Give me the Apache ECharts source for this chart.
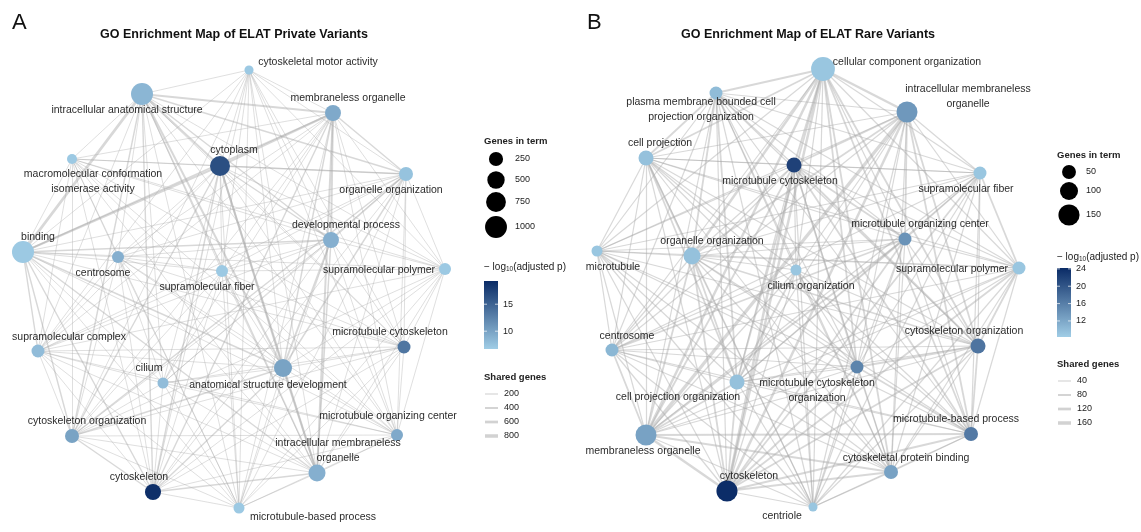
<!DOCTYPE html>
<html>
<head>
<meta charset="utf-8">
<script src="https://cdn.jsdelivr.net/npm/echarts@6/dist/echarts.min.js"></script>
<style>
  html, body { margin: 0; background: #fff; }
  #chart { width: 1141px; height: 532px; }
</style>
</head>
<body>
<div id="chart"></div>
<script>
// shared layout (same node positions in both maps), layout units
const layoutX = [226, 119, 310, 49, 197, 383, 308, 0, 95, 199, 422, 15, 381, 260, 140, 49, 374, 294, 130, 216]
const layoutY = [0, 24, 43, 89, 96, 104, 170, 182, 187, 201, 199, 281, 277, 298, 313, 366, 365, 403, 422, 438]

// panel A: ELAT private variants
const termsA = [
  'cytoskeletal motor activity', 'intracellular anatomical structure', 'membraneless organelle',
  'macromolecular conformation\nisomerase activity', 'cytoplasm', 'organelle organization',
  'developmental process', 'binding', 'centrosome', 'supramolecular fiber', 'supramolecular polymer',
  'supramolecular complex', 'microtubule cytoskeleton', 'anatomical structure development', 'cilium',
  'cytoskeleton organization', 'microtubule organizing center', 'intracellular membraneless\norganelle',
  'cytoskeleton', 'microtubule-based process'
]
const genesA = [30, 1010, 380, 55, 770, 240, 380, 1020, 130, 130, 130, 180, 180, 560, 90, 240, 130, 470, 390, 90]
const logpA = [7, 8.5, 9.5, 7, 16.5, 7.5, 9, 7, 9, 7, 7, 8, 13.5, 10, 8, 10, 9.5, 9, 19, 7]
// shared genes between terms, upper triangle, coded by level
const sharedLevelsA = [0, 130, 280, 420, 650]
const edgesA = [
  '1101111011111011111', '313224111113121221', '13232111112111321', '1111101111011111',
  '223111113121321', '21111112121111', '2111113111211', '111212121221', '10111111111',
  '1111111111', '111011111', '11111111', '1111111', '121321', '11111', '1121', '111', '21', '1'
]
const genesBreaksA = [250, 500, 750, 1000]
const pTicksA = [10, 15]
const pRangeA = [6.7, 19.3]
const sharedBreaksA = [200, 400, 600, 800]

// panel B: ELAT rare variants
const termsB = [
  'cellular component organization', 'plasma membrane bounded cell\nprojection organization',
  'intracellular membraneless\norganelle', 'cell projection', 'microtubule cytoskeleton',
  'supramolecular fiber', 'microtubule organizing center', 'microtubule', 'organelle organization',
  'cilium organization', 'supramolecular polymer', 'centrosome', 'cytoskeleton organization',
  'microtubule cytoskeleton\norganization', 'cell projection organization', 'membraneless organelle',
  'microtubule-based process', 'cytoskeletal protein binding', 'cytoskeleton', 'centriole'
]
const genesB = [200, 41, 147, 62, 62, 41, 41, 25, 86, 25, 41, 41, 62, 41, 62, 147, 51, 51, 150, 13]
const logpB = [9, 10, 13.5, 9.5, 22, 9, 14, 9, 9.5, 9, 9, 10.5, 17, 15.5, 9.5, 12.5, 16.5, 12.5, 24, 9]
const sharedLevelsB = [0, 45, 75, 110, 150]
const edgesB = [
  '2322111311122232231', '121111211111211111', '12121211121142131', '1111211111211111',
  '121111122122131', '11102111111121', '1111211121121', '101111111111', '11121221121',
  '0111211111', '121111121', '11121111', '2112121', '112121', '21121', '2231', '121', '21', '1'
]
const genesBreaksB = [50, 100, 150]
const pTicksB = [12, 16, 20, 24]
const pRangeB = [8.3, 24.2]
const sharedBreaksB = [40, 80, 120, 160]

// label placement relative to node centre (px)
const labelOffA = [[69, -8], [-15, 16], [15, -15], [21, 23], [14, -16], [-15, 16], [15, -15], [15, -15],
  [-15, 16], [-15, 16], [-66, 1], [31, -14], [-14, -15], [-15, 17], [-14, -15], [15, -15], [-9, -19],
  [21, -22], [-14, -15], [74, 9]]
const labelOffB = [[84, -7], [-15, 17], [61, -15], [14, -15], [-14, 16], [-14, 16], [15, -15], [16, 16],
  [20, -15], [15, 16], [-67, 1], [15, -14], [-14, -15], [-40, 24], [-59, 15], [-3, 16], [-15, -15],
  [15, -14], [22, -15], [-31, 9]]

const LOW = '#A0CDE6'
const HIGH = '#0A2B66'
const FONT = '"Liberation Sans", Arial, sans-serif'

const sizeA = g => 2 * (3.2 + 0.245 * Math.sqrt(g))
const sizeB = g => 2 * (2.0 + 0.7 * Math.sqrt(g))
const widthA = s => 0.3 + 0.004 * s
const widthB = s => 0.3 + 0.02 * s

const colorOf = (p, range) => echarts.color.lerp((p - range[0]) / (range[1] - range[0]), [LOW, HIGH])

const buildNodes = (terms, genes, logp, offs, sizeFn, range) => terms.map((t, i) => ({
  name: t,
  value: [layoutX[i], layoutY[i]],
  symbolSize: sizeFn(genes[i]),
  itemStyle: { color: colorOf(logp[i], range) },
  label: { show: true, position: 'inside', offset: offs[i] },
}))

const buildLinks = (rows, levels, widthFn) => {
  const links = []
  rows.forEach((row, i) => {
    for (let k = 0; k < row.length; k++) {
      const lv = +row[k]
      if (!lv) continue
      links.push({ source: i, target: i + 1 + k, value: levels[lv], lineStyle: { width: widthFn(levels[lv]) } })
    }
  })
  return links.sort((a, b) => a.value - b.value)
}

const graphSeries = (idx, nodes, links) => ({
  type: 'graph',
  coordinateSystem: 'cartesian2d',
  xAxisIndex: idx,
  yAxisIndex: idx,
  layout: 'none',
  data: nodes,
  links: links,
  silent: true,
  lineStyle: { color: '#a8a8a8', opacity: 0.45, curveness: 0 },
  label: { color: '#2b2b2b', fontSize: 10.5, fontFamily: FONT, lineHeight: 15 },
  emphasis: { disabled: true },
})

// legend block drawn with graphics
const legend = (x, o) => {
  const els = []
  const txt = (tx, ty, text, extra) => els.push({
    type: 'text', x: tx, y: ty, silent: true,
    style: Object.assign({ text, fill: '#222', font: '9px ' + FONT, textVerticalAlign: 'middle' }, extra || {}),
  })
  txt(x, o.genesTitleY, 'Genes in term', { font: 'bold 9.5px ' + FONT })
  o.genesBreaks.forEach((g, i) => {
    els.push({ type: 'circle', silent: true, shape: { cx: x + 12, cy: o.genesY[i], r: o.sizeFn(g) / 2 }, style: { fill: '#000' } })
    txt(o.genesLabelX, o.genesY[i], String(g))
  })
  txt(x, o.barTitleY, '− log{s|10}(adjusted p)', { font: '10px ' + FONT, rich: { s: { fontSize: 6.5, fontFamily: FONT, padding: [5, 0, 0, 0] } } })
  els.push({
    type: 'rect', silent: true,
    shape: { x: x, y: o.barTop, width: 14, height: o.barH },
    style: { fill: new echarts.graphic.LinearGradient(0, 0, 0, 1, [{ offset: 0, color: HIGH }, { offset: 1, color: LOW }]) },
  })
  o.pTicks.forEach(v => {
    const y = o.barTop + (o.pRange[1] - v) / (o.pRange[1] - o.pRange[0]) * o.barH
    els.push({ type: 'line', silent: true, shape: { x1: x, y1: y, x2: x + 3, y2: y }, style: { stroke: 'rgba(255,255,255,0.7)', lineWidth: 1 } })
    els.push({ type: 'line', silent: true, shape: { x1: x + 11, y1: y, x2: x + 14, y2: y }, style: { stroke: 'rgba(255,255,255,0.7)', lineWidth: 1 } })
    txt(x + 19, y, String(v))
  })
  txt(x, o.sharedTitleY, 'Shared genes', { font: 'bold 9.5px ' + FONT })
  o.sharedBreaks.forEach((s, i) => {
    const y = o.sharedTitleY + 17 + i * 14
    els.push({ type: 'line', silent: true, shape: { x1: x + 1, y1: y, x2: x + 14, y2: y }, style: { stroke: '#d2d2d2', lineWidth: o.widthFn(s) } })
    txt(x + 20, y, String(s))
  })
  return els
}

const chart = echarts.init(document.getElementById('chart'))
chart.setOption({
  animation: false,
  backgroundColor: '#fff',
  grid: [
    { left: 23, top: 70, width: 422, height: 438 },
    { left: 597, top: 69, width: 422, height: 438 },
  ],
  xAxis: [
    { type: 'value', min: 0, max: 422, show: false, gridIndex: 0 },
    { type: 'value', min: 0, max: 422, show: false, gridIndex: 1 },
  ],
  yAxis: [
    { type: 'value', min: 0, max: 438, inverse: true, show: false, gridIndex: 0 },
    { type: 'value', min: 0, max: 438, inverse: true, show: false, gridIndex: 1 },
  ],
  series: [
    graphSeries(0, buildNodes(termsA, genesA, logpA, labelOffA, sizeA, pRangeA), buildLinks(edgesA, sharedLevelsA, widthA)),
    graphSeries(1, buildNodes(termsB, genesB, logpB, labelOffB, sizeB, pRangeB), buildLinks(edgesB, sharedLevelsB, widthB)),
  ],
  graphic: [
    { type: 'text', x: 12, y: 23, style: { text: 'A', font: '22px ' + FONT, fill: '#111', textVerticalAlign: 'middle' } },
    { type: 'text', x: 587, y: 23, style: { text: 'B', font: '22px ' + FONT, fill: '#111', textVerticalAlign: 'middle' } },
    { type: 'text', x: 234, y: 35, style: { text: 'GO Enrichment Map of ELAT Private Variants', font: 'bold 12.5px ' + FONT, fill: '#111', textAlign: 'center', textVerticalAlign: 'middle' } },
    { type: 'text', x: 808, y: 35, style: { text: 'GO Enrichment Map of ELAT Rare Variants', font: 'bold 12.5px ' + FONT, fill: '#111', textAlign: 'center', textVerticalAlign: 'middle' } },
    ...legend(484, {
      genesTitleY: 141, genesBreaks: genesBreaksA, genesY: [159, 180, 202, 227], genesLabelX: 515, sizeFn: sizeA,
      barTitleY: 267, barTop: 281, barH: 68, pTicks: pTicksA, pRange: pRangeA,
      sharedTitleY: 377, sharedBreaks: sharedBreaksA, widthFn: widthA,
    }),
    ...legend(1057, {
      genesTitleY: 155, genesBreaks: genesBreaksB, genesY: [172, 191, 215], genesLabelX: 1086, sizeFn: sizeB,
      barTitleY: 257, barTop: 268, barH: 69, pTicks: pTicksB, pRange: pRangeB,
      sharedTitleY: 364, sharedBreaks: sharedBreaksB, widthFn: widthB,
    }),
  ],
})
</script>
</body>
</html>
